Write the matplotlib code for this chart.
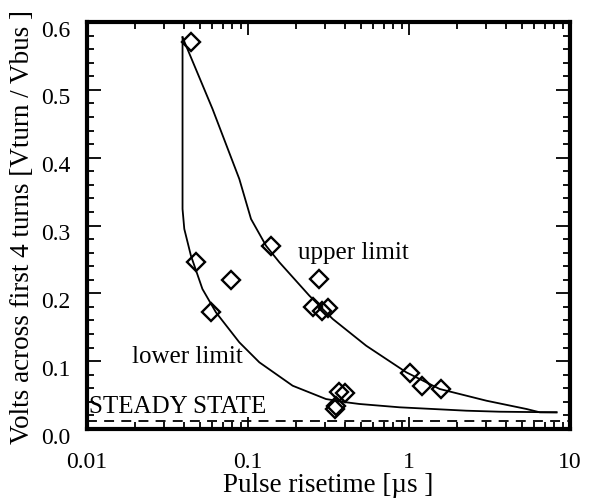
import numpy as np
import matplotlib
matplotlib.use('Agg')
import matplotlib.pyplot as plt
from matplotlib.transforms import ScaledTranslation
from matplotlib.ticker import FixedLocator, FormatStrFormatter, MultipleLocator, LogLocator, NullFormatter

plt.rcParams['font.family'] = ['Liberation Serif', 'DejaVu Serif']

# measured diamonds
meas_x = [0.044, 0.0475, 0.0784, 0.0588, 0.139, 0.275, 0.252, 0.313, 0.29,
          1.02, 1.21, 1.59, 0.37, 0.403, 0.353, 0.345]
meas_y = [0.571, 0.246, 0.219, 0.173, 0.270, 0.221, 0.180, 0.179, 0.174,
          0.083, 0.064, 0.059, 0.054, 0.053, 0.034, 0.029]

# upper limit curve
upper_x = [0.0392, 0.0602, 0.0883, 0.1044, 0.1294, 0.1566, 0.2406, 0.336,
           0.542, 0.962, 1.55, 3.03, 5.37, 6.50, 8.25]
upper_y = [0.5775, 0.4718, 0.3686, 0.3096, 0.2702, 0.2458, 0.1965, 0.1622,
           0.1228, 0.0836, 0.059, 0.0417, 0.0295, 0.0246, 0.0246]

# lower limit curve
lower_x = [0.0392, 0.0392, 0.0402, 0.0442, 0.0521, 0.0632, 0.0883, 0.1176,
           0.1894, 0.305, 0.407, 0.492, 0.874, 1.41, 2.27, 3.66, 8.25]
lower_y = [0.5775, 0.3243, 0.2949, 0.2555, 0.2064, 0.172, 0.1278, 0.0983,
           0.0638, 0.0442, 0.0394, 0.0369, 0.0320, 0.0295, 0.0270, 0.0255, 0.0246]

steady_state = 0.012

fig = plt.figure(figsize=(5.92, 5.02), dpi=100)
ax = fig.add_axes([0.147, 0.1434, 0.8158, 0.8108])

ax.plot(upper_x, upper_y, color='black', lw=1.3)
ax.plot(lower_x, lower_y, color='black', lw=1.3)
ax.plot(meas_x, meas_y, linestyle='none', marker='D', ms=9.5, mfc='none',
        mec='black', mew=1.7)
ax.axhline(steady_state, color='black', lw=1.3, dashes=(5.5, 4))

ax.text(0.0103, 0.034, 'STEADY STATE', fontsize=18, va='center', ha='left')
ax.text(0.019, 0.108, 'lower limit', fontsize=18, va='center', ha='left')
ax.text(0.203, 0.261, 'upper limit', fontsize=18, va='center', ha='left')

ax.set_xscale('log')
ax.set_xlim(0.01, 10)
ax.set_ylim(0, 0.6)
ax.xaxis.set_major_locator(FixedLocator([0.01, 0.1, 1, 10]))
ax.set_xticklabels(['0.01', '0.1', '1', '10'])
ax.xaxis.set_minor_locator(LogLocator(base=10, subs=np.arange(2, 10)))
ax.xaxis.set_minor_formatter(NullFormatter())
ax.yaxis.set_major_locator(FixedLocator([0.0, 0.1, 0.2, 0.3, 0.4, 0.5, 0.6]))
ax.yaxis.set_minor_locator(MultipleLocator(0.02))
ax.yaxis.set_major_formatter(FormatStrFormatter('%.1f'))

ax.tick_params(which='both', direction='in', top=True, right=True, labelsize=17)
ax.tick_params(axis='x', which='major', length=9, width=1.3, pad=16)
ax.tick_params(axis='y', which='major', length=10, width=1.3, pad=12)
ax.tick_params(which='minor', length=5, width=1.3)
for s in ax.spines.values():
    s.set_linewidth(3)

# y tick labels sit a little below their ticks in the original
shift = ScaledTranslation(0, -4 / 72, fig.dpi_scale_trans)
for lab in ax.get_yticklabels():
    lab.set_transform(lab.get_transform() + shift)

ax.set_xlabel('Pulse risetime [µs ]', fontsize=19.5, labelpad=0)
ax.set_ylabel('Volts across first 4 turns [Vturn / Vbus ]', fontsize=19.5, labelpad=4)

fig.savefig('out.png', dpi=100)
